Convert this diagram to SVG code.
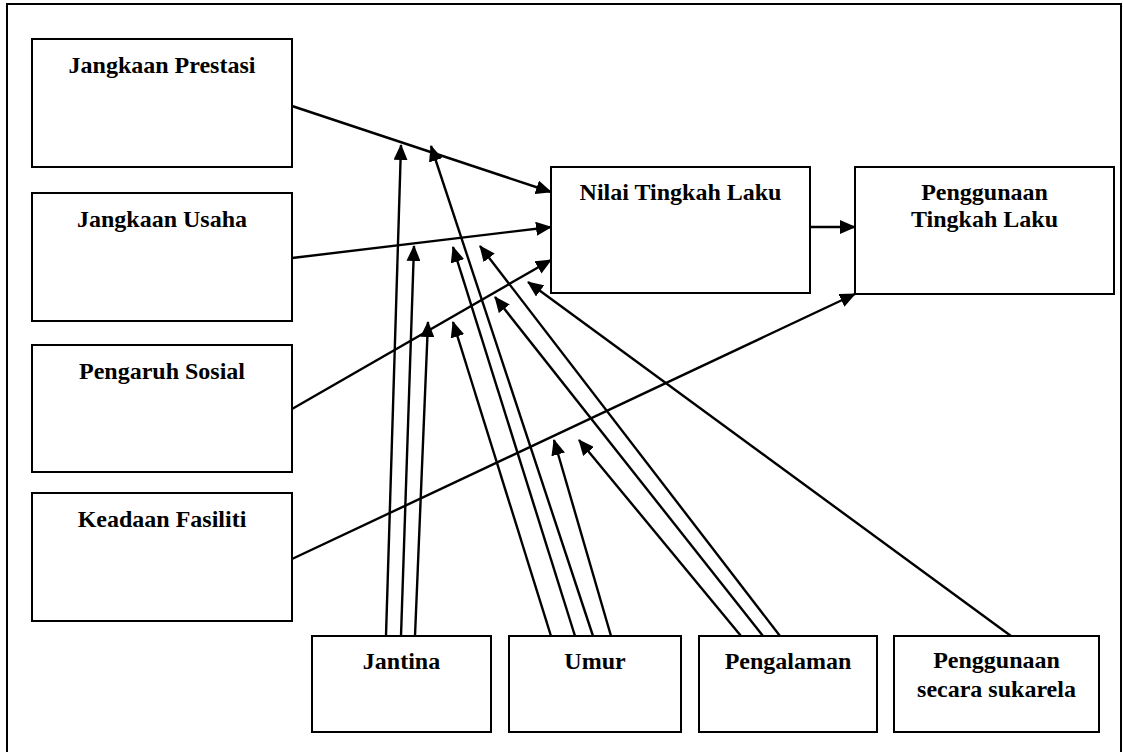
<svg xmlns="http://www.w3.org/2000/svg" width="1123" height="752" viewBox="0 0 1123 752">
<style>
.box{fill:#fff;stroke:#000;stroke-width:2}
.lbl{font-family:"Liberation Serif","Times New Roman",serif;font-weight:bold;font-size:24px;fill:#000;text-anchor:middle}
.c{stroke:#000;stroke-width:2.4;fill:none;marker-end:url(#ah)}
.plain{stroke:#000;stroke-width:2;fill:none}
</style>
<defs>
<marker id="ah" markerUnits="userSpaceOnUse" markerWidth="16" markerHeight="14" viewBox="0 0 16 14" refX="15" refY="7" orient="auto"><path d="M0,0 L16,7 L0,14 z" fill="#000"/></marker>
</defs>
<rect width="1123" height="752" fill="#fff"/>
<path class="plain" d="M7,760 V4 H1121 V760"/>
<g id="jangkaan-prestasi"><rect class="box" x="32" y="39" width="260" height="128"/><text class="lbl" x="162" y="73">Jangkaan Prestasi</text></g>
<g id="jangkaan-usaha"><rect class="box" x="32" y="193" width="260" height="128"/><text class="lbl" x="162" y="227">Jangkaan Usaha</text></g>
<g id="pengaruh-sosial"><rect class="box" x="32" y="345" width="260" height="127"/><text class="lbl" x="162" y="379">Pengaruh Sosial</text></g>
<g id="keadaan-fasiliti"><rect class="box" x="32" y="493" width="260" height="128"/><text class="lbl" x="162" y="527">Keadaan Fasiliti</text></g>
<g id="nilai-tingkah-laku"><rect class="box" x="551" y="167" width="259" height="126"/><text class="lbl" x="680.5" y="200">Nilai Tingkah Laku</text></g>
<g id="penggunaan-tingkah-laku"><rect class="box" x="855" y="167" width="259" height="127"/><text class="lbl" x="984.5" y="200">Penggunaan</text><text class="lbl" x="984.5" y="227">Tingkah Laku</text></g>
<g id="jantina"><rect class="box" x="312" y="636" width="179" height="96"/><text class="lbl" x="401.5" y="669">Jantina</text></g>
<g id="umur"><rect class="box" x="509" y="636" width="172" height="96"/><text class="lbl" x="595" y="669">Umur</text></g>
<g id="pengalaman"><rect class="box" x="699" y="636" width="178" height="96"/><text class="lbl" x="788" y="669">Pengalaman</text></g>
<g id="penggunaan-sukarela"><rect class="box" x="894" y="636" width="205" height="96"/><text class="lbl" x="996.5" y="668">Penggunaan</text><text class="lbl" x="996.5" y="697">secara sukarela</text></g>
<g id="connectors">
<line class="c" x1="292" y1="106" x2="551" y2="192"/>
<line class="c" x1="292" y1="258" x2="551" y2="227"/>
<line class="c" x1="292" y1="409" x2="551" y2="260"/>
<line class="c" x1="292" y1="559" x2="855" y2="294"/>
<line class="c" x1="810" y1="227" x2="855" y2="227"/>
<line class="c" x1="386" y1="636" x2="401" y2="145"/>
<line class="c" x1="401" y1="636" x2="414" y2="246"/>
<line class="c" x1="415" y1="636" x2="428" y2="322"/>
<line class="c" x1="551" y1="636" x2="453" y2="322"/>
<line class="c" x1="575" y1="636" x2="453" y2="247"/>
<line class="c" x1="593" y1="636" x2="431" y2="146"/>
<line class="c" x1="611" y1="636" x2="554" y2="440"/>
<line class="c" x1="741" y1="636" x2="579" y2="440"/>
<line class="c" x1="763" y1="636" x2="495" y2="297"/>
<line class="c" x1="780" y1="636" x2="480" y2="246"/>
<line class="c" x1="1011" y1="636" x2="528" y2="282"/>
</g>
</svg>
